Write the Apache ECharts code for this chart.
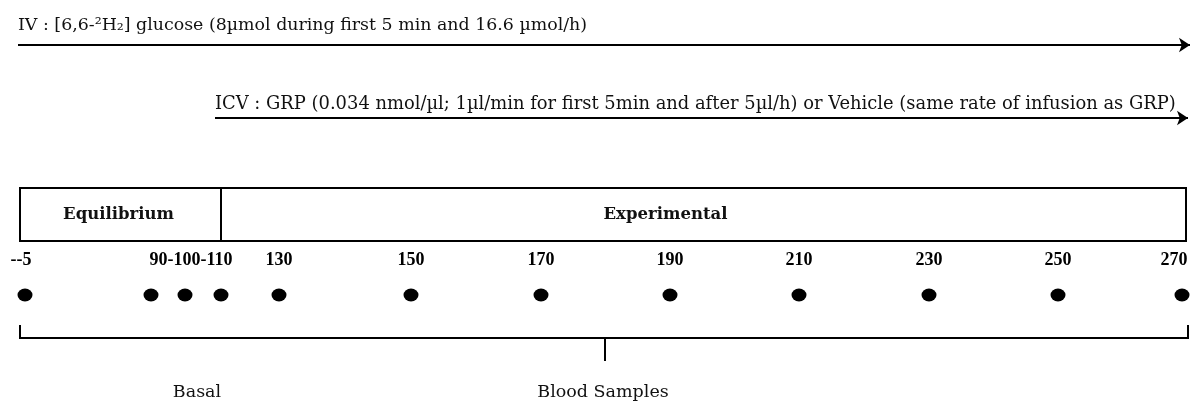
<!DOCTYPE html>
<html>
<head>
<meta charset="utf-8">
<script src="https://cdn.jsdelivr.net/npm/echarts@6/dist/echarts.min.js"></script>
<style>
  html, body { margin: 0; padding: 0; background: #fff; }
  #chart { width: 1193px; height: 403px; }
</style>
</head>
<body>
<div id="chart"></div>
<script>
// schematic timeline: x/y are layout units of the drawing (not to scale in minutes)
const infusionTexts = [
  'IV : [6,6-²H₂] glucose (8µmol during first 5 min and 16.6 µmol/h)',
  'ICV : GRP (0.034 nmol/µl; 1µl/min for first 5min and after 5µl/h) or Vehicle (same rate of infusion as GRP)'
];
const infusionStart = [18, 215];
const infusionEnd = [1190, 1188];
const infusionY = [45, 118];

const phaseNames = ['Equilibrium', 'Experimental'];
const phaseBounds = [[20, 221], [221, 1186]];

const sampleTimes = [-5, 90, 100, 110, 130, 150, 170, 190, 210, 230, 250, 270];
const sampleX = [25, 151, 185, 221, 279, 411, 541, 670, 799, 929, 1058, 1182];
const tickLabels = ['--5', '', '90-100-110', '', '130', '150', '170', '190', '210', '230', '250', '270'];

const groupNames = ['Basal', 'Blood Samples'];
const groupX = [197, 603];

const serif = '"DejaVu Serif", "Liberation Serif", serif';
const numFont = '"Liberation Serif", "DejaVu Serif", serif';

const chart = echarts.init(document.getElementById('chart'));

const arrowData = infusionTexts.map((t, i) => ({
  coords: [[infusionStart[i], infusionY[i]], [infusionEnd[i], infusionY[i]]],
  label: {
    formatter: t,
    distance: i === 0 ? 11 : 5,
    offset: i === 0 ? [-11, 0] : [-5, 0],
    fontSize: i === 0 ? 17.4 : 17.9
  }
}));

const dotData = sampleX.map((x, i) => ({
  value: [x, 295],
  name: String(sampleTimes[i]),
  label: {
    formatter: tickLabels[i],
    offset: i === 2 ? [6, 0] : (i === 0 ? [-4, 0] : (i === 11 ? [-8, 0] : [0, 0]))
  }
}));

chart.setOption({
  animation: false,
  grid: { left: 0, right: 0, top: 0, bottom: 0 },
  xAxis: { type: 'value', min: 0, max: 1193, show: false },
  yAxis: { type: 'value', min: 0, max: 403, inverse: true, show: false },
  series: [
    {
      type: 'lines',
      coordinateSystem: 'cartesian2d',
      symbol: ['none', 'arrow'],
      symbolSize: 11,
      lineStyle: { color: '#000', width: 2, opacity: 1 },
      label: {
        show: true,
        position: 'insideStartTop',
        color: '#111',
        fontFamily: serif,
        fontSize: 17.5
      },
      data: arrowData
    },
    {
      type: 'line',
      data: [],
      markArea: {
        silent: true,
        itemStyle: { color: 'rgba(0,0,0,0)', borderColor: '#000', borderWidth: 2 },
        label: {
          show: true,
          position: 'inside',
          color: '#111',
          fontFamily: serif,
          fontWeight: 'bold',
          fontSize: 16.5
        },
        data: phaseNames.map((n, i) => [
          { name: n, coord: [phaseBounds[i][0], 188], label: { offset: i === 1 ? [-38, 0] : [-2, 0] } },
          { coord: [phaseBounds[i][1], 241] }
        ])
      }
    },
    {
      type: 'scatter',
      symbol: 'circle',
      symbolSize: [15, 13],
      itemStyle: { color: '#000', opacity: 1 },
      label: {
        show: true,
        position: 'top',
        distance: 19,
        color: '#000',
        fontFamily: numFont,
        fontWeight: 'bold',
        fontSize: 18
      },
      data: dotData
    },
    {
      type: 'lines',
      coordinateSystem: 'cartesian2d',
      polyline: true,
      symbol: 'none',
      lineStyle: { color: '#000', width: 2, opacity: 1 },
      data: [
        { coords: [[20, 325], [20, 338], [1188, 338], [1188, 325]] },
        { coords: [[605, 338], [605, 361]] }
      ]
    },
    {
      type: 'scatter',
      symbolSize: 0,
      itemStyle: { opacity: 1 },
      label: {
        show: true,
        position: 'inside',
        formatter: '{b}',
        color: '#111',
        fontFamily: serif,
        fontSize: 17.5
      },
      data: groupNames.map((n, i) => ({ name: n, value: [groupX[i], 392] }))
    }
  ]
});
</script>
</body>
</html>
